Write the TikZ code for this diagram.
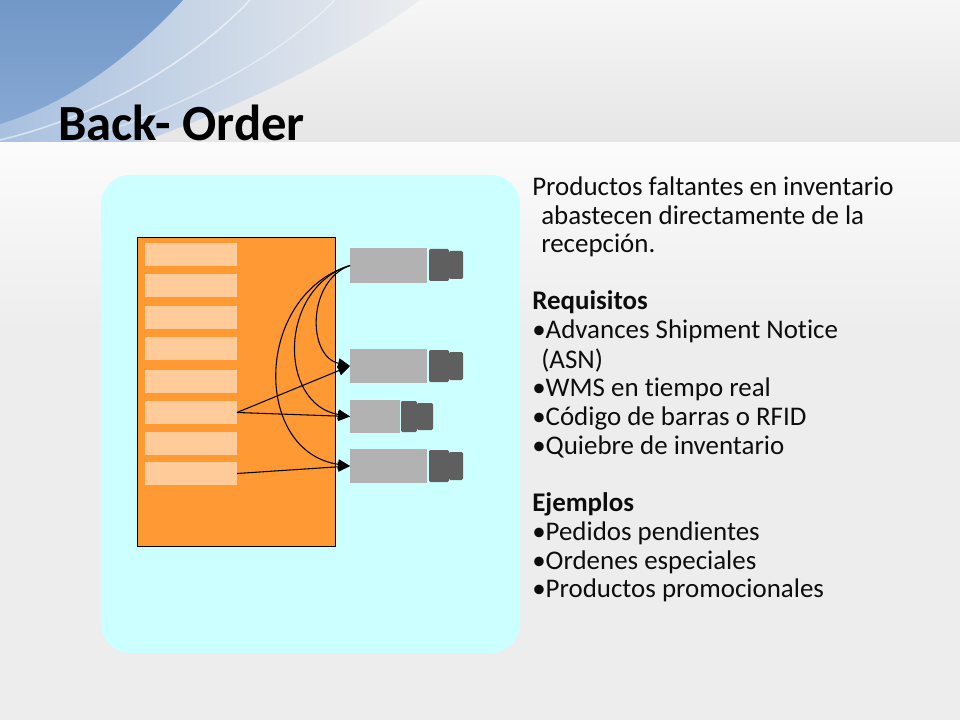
\documentclass[tikz,border=0pt]{standalone}
\usepackage{fontspec}
\setmainfont[Ligatures=NoCommon]{Carlito}
\usetikzlibrary{arrows.meta}
\definecolor{bgc}{HTML}{EDEDED}
\definecolor{panel}{HTML}{CCFFFF}
\definecolor{wh}{HTML}{FF9933}
\definecolor{shelfc}{HTML}{FFCC99}
\definecolor{trailc}{HTML}{B2B2B2}
\definecolor{cabc}{HTML}{5F5F5F}
\definecolor{blueA}{HTML}{7298C8}
\definecolor{blueB}{HTML}{87A8D3}
\definecolor{blueC}{HTML}{A8C0DF}
\definecolor{blueD}{HTML}{ECEDEF}
\tikzset{
  pbox/.style 2 args={minimum width=#1*0.75pt, minimum height=#2*0.75pt,
    inner sep=0pt, outer sep=0pt, anchor=north west, draw=none},
  shelfbox/.style={pbox={92}{23}, fill=shelfc},
  trailer/.style={fill=trailc},
  cab/.style={fill=cabc, rounded corners=1pt},
  conn/.style={draw=black, line width=0.8pt, -{Triangle[length=9pt,width=7.5pt]}},
  txt/.style={anchor=base west, inner sep=0pt, font=\fontsize{20.2pt}{24pt}\selectfont, text=black!95}
}
\begin{document}
\begin{tikzpicture}[x=0.75pt,y=-0.75pt]
\useasboundingbox (0,0) rectangle (960,720);
% background
\fill[bgc] (0,0) rectangle (960,720);
\shade[top color=white!50!bgc, bottom color=black!3!bgc] (0,0) rectangle (960,143);
% blue swoosh
\shade[left color=blueC, right color=blueD] (0,0) -- (420,0) .. controls (320,75) and (160,145) .. (0,185) -- cycle;
\shade[top color=blueA, bottom color=blueB] (0,0) -- (183,0) .. controls (145,42) and (80,100) .. (0,124) -- cycle;
\draw[white, opacity=0.55, line width=1.2pt] (250,0) .. controls (195,58) and (105,115) .. (0,140);
\draw[white, opacity=0.45, line width=1pt] (335,0) .. controls (265,70) and (145,128) .. (0,162);
% lower white band
\shade[top color=white!80!bgc, bottom color=bgc] (0,143) rectangle (960,330);
% title
\node[anchor=base west, inner sep=0pt, font=\fontsize{38pt}{40pt}\selectfont\bfseries] (title) at (58,141) {Back- Order};
% panel
\fill[panel, rounded corners=22pt] (101,175) rectangle (520,653);
% warehouse
\node[pbox={198}{309}, fill=wh, draw=black, line width=0.6pt] (wh) at (137,237) {};
\node[shelfbox] (s1) at (145,243) {};
\node[shelfbox] (s2) at (145,274) {};
\node[shelfbox] (s3) at (145,306) {};
\node[shelfbox] (s4) at (145,337) {};
\node[shelfbox] (s5) at (145,370) {};
\node[shelfbox] (s6) at (145,401) {};
\node[shelfbox] (s7) at (145,432) {};
\node[shelfbox] (s8) at (145,462) {};
% trucks
\node[pbox={77}{35}, trailer] (t1) at (350,248) {};
\node[pbox={20}{32}, cab] (c1a) at (429,249) {};
\node[pbox={14}{28}, cab] (c1b) at (449,251) {};
\node[pbox={77}{34}, trailer] (t2) at (350,349) {};
\node[pbox={20}{32}, cab] (c2a) at (429,350) {};
\node[pbox={14}{28}, cab] (c2b) at (449,352) {};
\node[pbox={50}{33}, trailer] (t3) at (350,400) {};
\node[pbox={16}{31}, cab] (c3a) at (401,401) {};
\node[pbox={16}{27}, cab] (c3b) at (417,403) {};
\node[pbox={77}{34}, trailer] (t4) at (350,449) {};
\node[pbox={20}{32}, cab] (c4a) at (429,450) {};
\node[pbox={14}{28}, cab] (c4b) at (449,452) {};
% connectors
\draw[conn] (t1.west) .. controls (307,281) and (307,356) .. (t2.west);
\draw[conn] (t1.west) .. controls (278,288) and (278,404) .. (t3.west);
\draw[conn] (t1.west) .. controls (253,296) and (253,452) .. (t4.west);
\draw[conn] (s6.east) -- (t2.west);
\draw[conn] (s6.east) -- (t3.west);
\draw[conn] (s8.east) -- (t4.west);
% text
\node[txt] (l1) at (532,196) {Productos faltantes en inventario};
\node[txt] (l2) at (541,224.5) {abastecen directamente de la};
\node[txt] (l3) at (541,253) {recepción.};
\node[txt, font=\fontsize{20.2pt}{24pt}\selectfont\bfseries] (l4) at (532,310) {Requisitos};
\node[txt] (l5) at (532,339) {•Advances Shipment Notice};
\node[txt] (l6) at (541,368) {(ASN)};
\node[txt] (l7) at (532,396) {•WMS en tiempo real};
\node[txt] (l8) at (532,425) {•Código de barras o RFID};
\node[txt] (l9) at (532,454) {•Quiebre de inventario};
\node[txt, font=\fontsize{20.2pt}{24pt}\selectfont\bfseries] (l10) at (532,511) {Ejemplos};
\node[txt] (l11) at (532,540) {•Pedidos pendientes};
\node[txt] (l12) at (532,569) {•Ordenes especiales};
\node[txt] (l13) at (532,597) {•Productos promocionales};
\end{tikzpicture}
\end{document}
